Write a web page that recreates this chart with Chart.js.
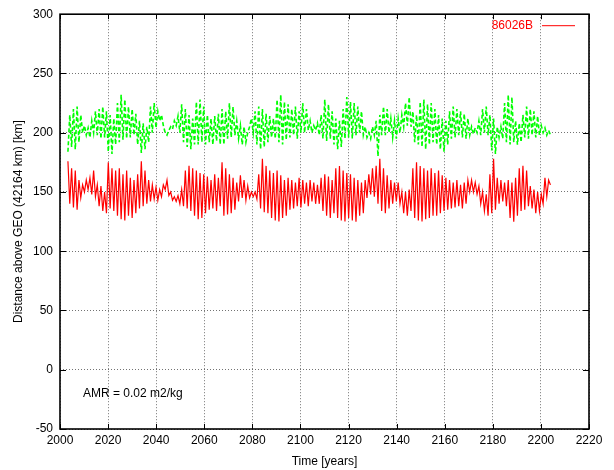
<!DOCTYPE html>
<html>
<head>
<meta charset="utf-8">
<script src="https://cdn.jsdelivr.net/npm/chart.js@4/dist/chart.umd.min.js"></script>
<style>
  html, body { margin: 0; padding: 0; background: #fff; }
  #wrap { width: 614px; height: 470px; }
</style>
</head>
<body>
<div id="wrap"><canvas id="c" width="614" height="470"></canvas></div>
<script>
// ---- data ----
const START_YEAR = 2003.3;   // first sample (years)
const STEP_YEARS = 0.763;    // sampling interval (years)

const seriesRedLabel = "86026B";
const seriesRed = [
176,140,170,137, 168,135,160,145, 156,150,160,152, 162,148,168,146, 156,138,155,134, 150,132,175,136, 170,134,168,130, 170,127,165,126, 168,130,162,128, 160,132,165,136,
176,138,168,140, 160,142,156,144, 154,143,152,146, 156,152,160,147, 150,143,146,142, 147,140,152,138, 168,136,172,134, 170,130,168,127, 166,128,165,132, 163,135,160,136,
165,134,162,138, 175,130,170,131, 165,132,162,135, 158,142,164,145, 160,143,155,145, 150,146,150,144, 165,136,178,133, 172,132,168,128, 166,126,168,125, 164,128,160,130,
162,135,160,136, 158,138,162,137, 160,140,158,138, 160,142,158,140, 156,140,162,134, 165,130,163,128, 160,132,170,128, 172,126,168,125, 166,128,165,126, 162,125,160,130,
158,132,160,145, 165,148,170,146, 172,140,178,134, 170,132,164,136, 160,140,158,142, 158,140,150,132, 150,130,152,134, 170,128,175,126, 172,125,170,127, 168,128,170,130,
166,130,168,132, 164,134,162,135, 160,136,158,137, 160,138,156,136, 158,140,160,150, 160,150,158,148, 155,140,150,134, 148,130,165,132, 178,135,162,140, 160,142,158,138,
160,128,158,125, 162,130,170,134, 172,135,168,138, 155,136,152,132, 150,134,148,140, 162,146,160,156
];
const seriesGreen = [
184,215,188,220, 186,222,192,215, 200,206,198,204, 196,210,200,218, 198,220,195,222, 196,218,184,215, 182,212,190,225, 192,232,194,228, 195,222,196,220, 198,216,190,210,
183,208,186,205, 192,222,200,225, 204,218,210,215, 206,200,198,202, 205,203,210,206, 214,200,224,192, 220,188,215,186, 212,190,226,190, 228,192,222,190, 215,192,212,190,
214,193,216,190, 220,190,218,195, 225,196,222,198, 210,195,206,190, 205,192,200,205, 212,200,218,190, 222,186,220,188, 216,192,214,196, 212,195,228,192, 232,190,226,194,
224,196,220,198, 222,195,218,200, 225,200,220,202, 210,200,206,202, 208,198,215,195, 228,193,224,195, 218,190,212,186, 210,188,220,195, 230,196,226,195, 225,198,222,200,
218,198,205,196, 200,195,205,198, 210,180,215,198, 222,198,220,200, 212,196,210,195, 212,200,215,205, 225,206,230,205, 218,192,215,190, 226,188,228,186, 224,190,225,192,
220,190,215,186, 212,184,210,190, 218,195,222,196, 220,198,218,196, 216,195,212,198, 205,199,204,200, 210,198,220,200, 222,198,215,185, 212,182,205,196, 205,195,225,192,
232,190,230,192, 210,190,208,192, 215,196,222,195, 220,198,218,196, 214,198,206,200, 204,198,202,198
];

const xTickMin = 2000, xTickMax = 2220, xTickStep = 20;
const yTickMin = -50, yTickMax = 300, yTickStep = 50;
const xAxisTitle = "Time [years]";
const yAxisTitle = "Distance above GEO (42164 km) [km]";
const annotationText = "AMR = 0.02 m2/kg";

// ---- build points ----
function toPoints(vals) {
  return vals.map((v, i) => ({ x: START_YEAR + i * STEP_YEARS, y: v }));
}

const FONT = "'Liberation Sans', Arial, Helvetica, sans-serif";

const gnuplotFrame = {
  id: 'gnuplotFrame',
  afterDraw(chart) {
    const ctx = chart.ctx;
    const a = chart.chartArea;
    const xs = chart.scales.x, ys = chart.scales.y;
    ctx.save();
    // inward ticks on all four sides
    ctx.strokeStyle = '#000';
    ctx.lineWidth = 1;
    ctx.beginPath();
    xs.ticks.forEach(t => {
      const px = Math.round(xs.getPixelForValue(t.value)) + 0.5;
      ctx.moveTo(px, a.bottom); ctx.lineTo(px, a.bottom - 5);
      ctx.moveTo(px, a.top); ctx.lineTo(px, a.top + 5);
    });
    ys.ticks.forEach(t => {
      const py = Math.round(ys.getPixelForValue(t.value)) + 0.5;
      ctx.moveTo(a.left, py); ctx.lineTo(a.left + 6, py);
      ctx.moveTo(a.right, py); ctx.lineTo(a.right - 6, py);
    });
    ctx.stroke();
    // frame
    ctx.lineWidth = 1.6;
    ctx.strokeRect(a.left, a.top, a.right - a.left, a.bottom - a.top);
    // legend (key) top-right inside
    ctx.font = '12px ' + FONT;
    ctx.fillStyle = '#ff0000';
    ctx.textAlign = 'right';
    ctx.textBaseline = 'middle';
    ctx.fillText(seriesRedLabel, a.right - 56, a.top + 11);
    ctx.strokeStyle = '#ff0000';
    ctx.lineWidth = 1;
    ctx.beginPath();
    ctx.moveTo(a.right - 47, a.top + 11.5);
    ctx.lineTo(a.right - 14, a.top + 11.5);
    ctx.stroke();
    // annotation label
    ctx.fillStyle = '#000';
    ctx.textAlign = 'left';
    ctx.fillText(annotationText, a.left + 23, a.bottom - 35);
    ctx.restore();
  }
};

new Chart(document.getElementById('c'), {
  type: 'line',
  data: {
    datasets: [
      {
        label: 'green',
        data: toPoints(seriesGreen),
        borderColor: '#00ff00',
        borderWidth: 1.6,
        borderDash: [4, 2.5],
        pointRadius: 0,
        tension: 0,
        fill: false
      },
      {
        label: seriesRedLabel,
        data: toPoints(seriesRed),
        borderColor: '#ff0000',
        borderWidth: 1.2,
        pointRadius: 0,
        tension: 0,
        fill: false
      }
    ]
  },
  options: {
    responsive: false,
    animation: false,
    events: [],
    layout: { padding: { top: 14, right: 25, left: 0, bottom: 0 } },
    plugins: { legend: { display: false }, tooltip: { enabled: false } },
    scales: {
      x: {
        type: 'linear',
        min: xTickMin, max: xTickMax,
        afterFit(s) { s.height = 41; },
        ticks: { stepSize: xTickStep, color: '#000', padding: 4, maxRotation: 0,
                 font: { family: FONT, size: 12 }, callback: v => String(v) },
        grid: { color: 'rgba(0,0,0,0.55)', lineWidth: 1, drawTicks: false },
        border: { display: false, dash: [1, 2] },
        title: { display: true, text: xAxisTitle, color: '#000',
                 font: { family: FONT, size: 12 }, padding: { top: 1.5, bottom: 1.5 } }
      },
      y: {
        min: yTickMin, max: yTickMax,
        afterFit(s) { s.width = 60; },
        ticks: { stepSize: yTickStep, color: '#000', padding: 7,
                 font: { family: FONT, size: 12 } },
        grid: { color: 'rgba(0,0,0,0.55)', lineWidth: 1, drawTicks: false },
        border: { display: false, dash: [1, 2] },
        title: { display: true, text: yAxisTitle, color: '#000',
                 font: { family: FONT, size: 12 }, padding: { top: 11, bottom: 11 } }
      }
    }
  },
  plugins: [gnuplotFrame]
});
</script>
</body>
</html>
